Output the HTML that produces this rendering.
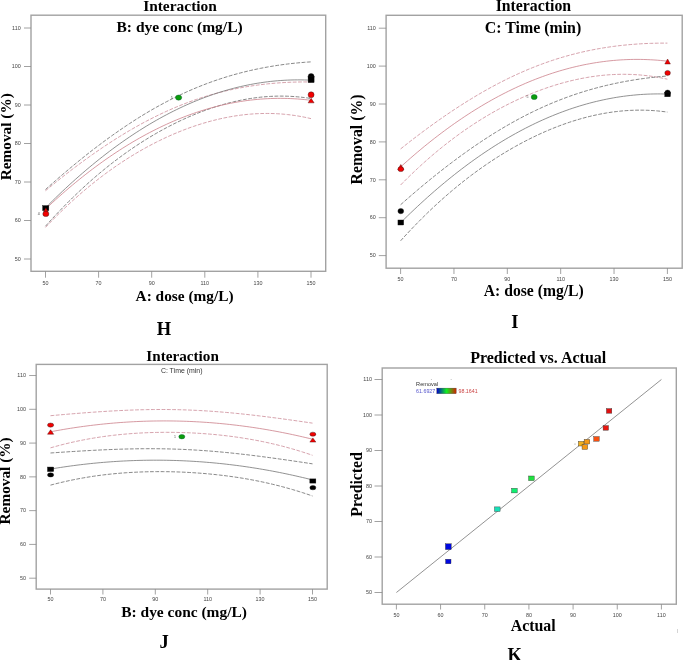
<!DOCTYPE html>
<html><head><meta charset="utf-8"><style>
html,body{margin:0;padding:0;background:#fff;}
body{width:685px;height:660px;overflow:hidden;}
svg{display:block;will-change:transform;}
</style></head><body>
<svg width="685" height="660" viewBox="0 0 685 660">
<rect width="685" height="660" fill="#fff"/>
<rect x="31" y="15.2" width="294.7" height="256.1" fill="none" stroke="#a2a2a2" stroke-width="1.4"/>
<line x1="45.50" y1="271.3" x2="45.50" y2="277.7" stroke="#8a8a8a" stroke-width="0.8"/>
<text x="45.50" y="285.20" font-family='"Liberation Sans", sans-serif' font-size="5.4" font-weight="normal" text-anchor="middle" fill="#444" >50</text>
<line x1="98.60" y1="271.3" x2="98.60" y2="277.7" stroke="#8a8a8a" stroke-width="0.8"/>
<text x="98.60" y="285.20" font-family='"Liberation Sans", sans-serif' font-size="5.4" font-weight="normal" text-anchor="middle" fill="#444" >70</text>
<line x1="151.70" y1="271.3" x2="151.70" y2="277.7" stroke="#8a8a8a" stroke-width="0.8"/>
<text x="151.70" y="285.20" font-family='"Liberation Sans", sans-serif' font-size="5.4" font-weight="normal" text-anchor="middle" fill="#444" >90</text>
<line x1="204.80" y1="271.3" x2="204.80" y2="277.7" stroke="#8a8a8a" stroke-width="0.8"/>
<text x="204.80" y="285.20" font-family='"Liberation Sans", sans-serif' font-size="5.4" font-weight="normal" text-anchor="middle" fill="#444" >110</text>
<line x1="257.90" y1="271.3" x2="257.90" y2="277.7" stroke="#8a8a8a" stroke-width="0.8"/>
<text x="257.90" y="285.20" font-family='"Liberation Sans", sans-serif' font-size="5.4" font-weight="normal" text-anchor="middle" fill="#444" >130</text>
<line x1="311.00" y1="271.3" x2="311.00" y2="277.7" stroke="#8a8a8a" stroke-width="0.8"/>
<text x="311.00" y="285.20" font-family='"Liberation Sans", sans-serif' font-size="5.4" font-weight="normal" text-anchor="middle" fill="#444" >150</text>
<line x1="24" y1="259.00" x2="31" y2="259.00" stroke="#8a8a8a" stroke-width="0.8"/>
<text x="20.70" y="260.70" font-family='"Liberation Sans", sans-serif' font-size="5.4" font-weight="normal" text-anchor="end" fill="#444" >50</text>
<line x1="24" y1="220.50" x2="31" y2="220.50" stroke="#8a8a8a" stroke-width="0.8"/>
<text x="20.70" y="222.20" font-family='"Liberation Sans", sans-serif' font-size="5.4" font-weight="normal" text-anchor="end" fill="#444" >60</text>
<line x1="24" y1="182.00" x2="31" y2="182.00" stroke="#8a8a8a" stroke-width="0.8"/>
<text x="20.70" y="183.70" font-family='"Liberation Sans", sans-serif' font-size="5.4" font-weight="normal" text-anchor="end" fill="#444" >70</text>
<line x1="24" y1="143.50" x2="31" y2="143.50" stroke="#8a8a8a" stroke-width="0.8"/>
<text x="20.70" y="145.20" font-family='"Liberation Sans", sans-serif' font-size="5.4" font-weight="normal" text-anchor="end" fill="#444" >80</text>
<line x1="24" y1="105.00" x2="31" y2="105.00" stroke="#8a8a8a" stroke-width="0.8"/>
<text x="20.70" y="106.70" font-family='"Liberation Sans", sans-serif' font-size="5.4" font-weight="normal" text-anchor="end" fill="#444" >90</text>
<line x1="24" y1="66.50" x2="31" y2="66.50" stroke="#8a8a8a" stroke-width="0.8"/>
<text x="20.70" y="68.20" font-family='"Liberation Sans", sans-serif' font-size="5.4" font-weight="normal" text-anchor="end" fill="#444" >100</text>
<line x1="24" y1="28.00" x2="31" y2="28.00" stroke="#8a8a8a" stroke-width="0.8"/>
<text x="20.70" y="29.70" font-family='"Liberation Sans", sans-serif' font-size="5.4" font-weight="normal" text-anchor="end" fill="#444" >110</text>
<polyline points="45.50,189.55 48.86,186.54 52.22,183.55 55.58,180.60 58.94,177.67 62.30,174.78 65.66,171.91 69.03,169.08 72.39,166.27 75.75,163.50 79.11,160.75 82.47,158.04 85.83,155.36 89.19,152.71 92.55,150.10 95.91,147.51 99.27,144.96 102.63,142.45 105.99,139.97 109.35,137.52 112.72,135.11 116.08,132.74 119.44,130.40 122.80,128.10 126.16,125.83 129.52,123.61 132.88,121.42 136.24,119.27 139.60,117.16 142.96,115.09 146.32,113.06 149.68,111.07 153.04,109.12 156.41,107.22 159.77,105.35 163.13,103.52 166.49,101.74 169.85,100.00 173.21,98.30 176.57,96.64 179.93,95.02 183.29,93.45 186.65,91.92 190.01,90.43 193.37,88.98 196.73,87.57 200.09,86.21 203.46,84.88 206.82,83.60 210.18,82.35 213.54,81.15 216.90,79.99 220.26,78.87 223.62,77.78 226.98,76.74 230.34,75.73 233.70,74.76 237.06,73.83 240.42,72.94 243.78,72.08 247.15,71.26 250.51,70.47 253.87,69.72 257.23,69.00 260.59,68.32 263.95,67.67 267.31,67.05 270.67,66.47 274.03,65.92 277.39,65.40 280.75,64.91 284.11,64.45 287.47,64.02 290.84,63.63 294.20,63.26 297.56,62.92 300.92,62.62 304.28,62.34 307.64,62.09 311.00,61.87" fill="none" stroke="#6a6a6a" stroke-width="0.8" stroke-dasharray="3.8,1.5"/>
<polyline points="45.50,190.72 48.86,187.94 52.22,185.18 55.58,182.46 58.94,179.76 62.30,177.09 65.66,174.46 69.03,171.85 72.39,169.28 75.75,166.73 79.11,164.22 82.47,161.74 85.83,159.29 89.19,156.87 92.55,154.49 95.91,152.14 99.27,149.82 102.63,147.54 105.99,145.29 109.35,143.08 112.72,140.90 116.08,138.76 119.44,136.66 122.80,134.59 126.16,132.56 129.52,130.57 132.88,128.62 136.24,126.71 139.60,124.84 142.96,123.00 146.32,121.21 149.68,119.46 153.04,117.75 156.41,116.08 159.77,114.45 163.13,112.86 166.49,111.31 169.85,109.81 173.21,108.35 176.57,106.93 179.93,105.56 183.29,104.22 186.65,102.93 190.01,101.68 193.37,100.47 196.73,99.31 200.09,98.18 203.46,97.10 206.82,96.06 210.18,95.06 213.54,94.10 216.90,93.18 220.26,92.30 223.62,91.46 226.98,90.65 230.34,89.89 233.70,89.17 237.06,88.48 240.42,87.83 243.78,87.22 247.15,86.64 250.51,86.10 253.87,85.60 257.23,85.13 260.59,84.69 263.95,84.29 267.31,83.92 270.67,83.58 274.03,83.28 277.39,83.01 280.75,82.77 284.11,82.56 287.47,82.38 290.84,82.23 294.20,82.12 297.56,82.03 300.92,81.97 304.28,81.94 307.64,81.95 311.00,81.98" fill="none" stroke="#cc8c98" stroke-width="0.8" stroke-dasharray="3.8,1.5"/>
<polyline points="45.50,226.19 48.86,222.44 52.22,218.76 55.58,215.14 58.94,211.58 62.30,208.08 65.66,204.64 69.03,201.26 72.39,197.95 75.75,194.69 79.11,191.49 82.47,188.35 85.83,185.27 89.19,182.24 92.55,179.28 95.91,176.37 99.27,173.52 102.63,170.72 105.99,167.99 109.35,165.30 112.72,162.67 116.08,160.10 119.44,157.58 122.80,155.11 126.16,152.70 129.52,150.34 132.88,148.03 136.24,145.77 139.60,143.56 142.96,141.40 146.32,139.30 149.68,137.24 153.04,135.24 156.41,133.28 159.77,131.37 163.13,129.51 166.49,127.70 169.85,125.94 173.21,124.23 176.57,122.56 179.93,120.95 183.29,119.38 186.65,117.86 190.01,116.39 193.37,114.97 196.73,113.59 200.09,112.27 203.46,110.99 206.82,109.77 210.18,108.59 213.54,107.46 216.90,106.39 220.26,105.36 223.62,104.39 226.98,103.47 230.34,102.60 233.70,101.78 237.06,101.01 240.42,100.30 243.78,99.64 247.15,99.04 250.51,98.49 253.87,98.00 257.23,97.56 260.59,97.18 263.95,96.85 267.31,96.59 270.67,96.38 274.03,96.23 277.39,96.13 280.75,96.10 284.11,96.13 287.47,96.21 290.84,96.36 294.20,96.56 297.56,96.83 300.92,97.16 304.28,97.55 307.64,97.99 311.00,98.51" fill="none" stroke="#6a6a6a" stroke-width="0.8" stroke-dasharray="3.8,1.5"/>
<polyline points="45.50,227.36 48.86,223.84 52.22,220.39 55.58,217.00 58.94,213.67 62.30,210.40 65.66,207.19 69.03,204.04 72.39,200.95 75.75,197.92 79.11,194.96 82.47,192.05 85.83,189.20 89.19,186.41 92.55,183.67 95.91,181.00 99.27,178.38 102.63,175.82 105.99,173.31 109.35,170.86 112.72,168.47 116.08,166.13 119.44,163.84 122.80,161.61 126.16,159.43 129.52,157.30 132.88,155.23 136.24,153.21 139.60,151.23 142.96,149.31 146.32,147.45 149.68,145.63 153.04,143.86 156.41,142.14 159.77,140.47 163.13,138.85 166.49,137.28 169.85,135.75 173.21,134.28 176.57,132.85 179.93,131.48 183.29,130.15 186.65,128.87 190.01,127.64 193.37,126.46 196.73,125.33 200.09,124.24 203.46,123.21 206.82,122.23 210.18,121.29 213.54,120.41 216.90,119.58 220.26,118.79 223.62,118.06 226.98,117.38 230.34,116.76 233.70,116.18 237.06,115.66 240.42,115.20 243.78,114.78 247.15,114.42 250.51,114.12 253.87,113.87 257.23,113.68 260.59,113.55 263.95,113.47 267.31,113.45 270.67,113.49 274.03,113.59 277.39,113.74 280.75,113.96 284.11,114.23 287.47,114.57 290.84,114.96 294.20,115.42 297.56,115.93 300.92,116.51 304.28,117.15 307.64,117.85 311.00,118.61" fill="none" stroke="#cc8c98" stroke-width="0.8" stroke-dasharray="3.8,1.5"/>
<polyline points="45.50,207.87 48.86,204.49 52.22,201.16 55.58,197.87 58.94,194.63 62.30,191.43 65.66,188.28 69.03,185.17 72.39,182.11 75.75,179.09 79.11,176.12 82.47,173.20 85.83,170.31 89.19,167.48 92.55,164.69 95.91,161.94 99.27,159.24 102.63,156.59 105.99,153.98 109.35,151.41 112.72,148.89 116.08,146.42 119.44,143.99 122.80,141.60 126.16,139.27 129.52,136.97 132.88,134.72 136.24,132.52 139.60,130.36 142.96,128.25 146.32,126.18 149.68,124.16 153.04,122.18 156.41,120.25 159.77,118.36 163.13,116.52 166.49,114.72 169.85,112.97 173.21,111.26 176.57,109.60 179.93,107.99 183.29,106.41 186.65,104.89 190.01,103.41 193.37,101.97 196.73,100.58 200.09,99.24 203.46,97.94 206.82,96.68 210.18,95.47 213.54,94.31 216.90,93.19 220.26,92.11 223.62,91.09 226.98,90.10 230.34,89.16 233.70,88.27 237.06,87.42 240.42,86.62 243.78,85.86 247.15,85.15 250.51,84.48 253.87,83.86 257.23,83.28 260.59,82.75 263.95,82.26 267.31,81.82 270.67,81.42 274.03,81.07 277.39,80.77 280.75,80.50 284.11,80.29 287.47,80.12 290.84,79.99 294.20,79.91 297.56,79.88 300.92,79.89 304.28,79.94 307.64,80.04 311.00,80.19" fill="none" stroke="#767676" stroke-width="0.8"/>
<polyline points="45.50,209.04 48.86,205.89 52.22,202.79 55.58,199.73 58.94,196.71 62.30,193.75 65.66,190.82 69.03,187.95 72.39,185.12 75.75,182.33 79.11,179.59 82.47,176.89 85.83,174.24 89.19,171.64 92.55,169.08 95.91,166.57 99.27,164.10 102.63,161.68 105.99,159.30 109.35,156.97 112.72,154.68 116.08,152.44 119.44,150.25 122.80,148.10 126.16,146.00 129.52,143.94 132.88,141.92 136.24,139.96 139.60,138.04 142.96,136.16 146.32,134.33 149.68,132.54 153.04,130.80 156.41,129.11 159.77,127.46 163.13,125.85 166.49,124.30 169.85,122.78 173.21,121.31 176.57,119.89 179.93,118.52 183.29,117.19 186.65,115.90 190.01,114.66 193.37,113.47 196.73,112.32 200.09,111.21 203.46,110.15 206.82,109.14 210.18,108.17 213.54,107.25 216.90,106.38 220.26,105.54 223.62,104.76 226.98,104.02 230.34,103.32 233.70,102.68 237.06,102.07 240.42,101.51 243.78,101.00 247.15,100.53 250.51,100.11 253.87,99.74 257.23,99.41 260.59,99.12 263.95,98.88 267.31,98.69 270.67,98.54 274.03,98.43 277.39,98.38 280.75,98.36 284.11,98.40 287.47,98.47 290.84,98.60 294.20,98.77 297.56,98.98 300.92,99.24 304.28,99.55 307.64,99.90 311.00,100.30" fill="none" stroke="#cc808a" stroke-width="0.8"/>
<rect x="42.65" y="205.60" width="6.2" height="5" fill="#000" stroke="#111" stroke-width="0.4"/>
<polygon points="43.55,212.00 48.15,212.00 45.85,207.80" fill="#f20000" stroke="#400" stroke-width="0.4"/>
<ellipse cx="45.85" cy="213.90" rx="3.05" ry="2.7" fill="#f20000" stroke="#222" stroke-width="0.4"/>
<ellipse cx="311.10" cy="76.50" rx="3" ry="3" fill="#000" stroke="#222" stroke-width="0.4"/>
<rect x="308.10" y="76.60" width="6" height="6" fill="#000" stroke="#111" stroke-width="0.4"/>
<ellipse cx="311.10" cy="94.80" rx="3" ry="3" fill="#f20000" stroke="#222" stroke-width="0.4"/>
<polygon points="308.10,102.85 314.10,102.85 311.10,98.35" fill="#f20000" stroke="#400" stroke-width="0.4"/>
<ellipse cx="178.60" cy="97.60" rx="3.1" ry="2.6" fill="#0c9c0c" stroke="#053" stroke-width="0.4"/>
<text x="38.75" y="215.20" font-family='"Liberation Sans", sans-serif' font-size="3.5" font-weight="normal" text-anchor="middle" fill="#333" >4</text>
<text x="171.70" y="98.50" font-family='"Liberation Sans", sans-serif' font-size="3.5" font-weight="normal" text-anchor="middle" fill="#555" >5</text>
<text x="180.00" y="11.00" font-family='"Liberation Serif", serif' font-size="15.45" font-weight="bold" text-anchor="middle" fill="#000" >Interaction</text>
<text x="179.60" y="32.30" font-family='"Liberation Serif", serif' font-size="15.5" font-weight="bold" text-anchor="middle" fill="#000" >B: dye conc (mg/L)</text>
<text x="184.60" y="300.60" font-family='"Liberation Serif", serif' font-size="15.35" font-weight="bold" text-anchor="middle" fill="#000" >A: dose (mg/L)</text>
<text transform="translate(11.2,136.75) rotate(-90)" font-family='"Liberation Serif", serif' font-size="15.3" font-weight="bold" text-anchor="middle" fill="#000">Removal (%)</text>
<text x="164.00" y="334.80" font-family='"Liberation Serif", serif' font-size="18.5" font-weight="bold" text-anchor="middle" fill="#000" >H</text>
<rect x="386.1" y="15.3" width="296.1" height="252.89999999999998" fill="none" stroke="#a2a2a2" stroke-width="1.4"/>
<line x1="400.60" y1="268.2" x2="400.60" y2="274.0" stroke="#8a8a8a" stroke-width="0.8"/>
<text x="400.60" y="280.90" font-family='"Liberation Sans", sans-serif' font-size="5.4" font-weight="normal" text-anchor="middle" fill="#444" >50</text>
<line x1="453.96" y1="268.2" x2="453.96" y2="274.0" stroke="#8a8a8a" stroke-width="0.8"/>
<text x="453.96" y="280.90" font-family='"Liberation Sans", sans-serif' font-size="5.4" font-weight="normal" text-anchor="middle" fill="#444" >70</text>
<line x1="507.32" y1="268.2" x2="507.32" y2="274.0" stroke="#8a8a8a" stroke-width="0.8"/>
<text x="507.32" y="280.90" font-family='"Liberation Sans", sans-serif' font-size="5.4" font-weight="normal" text-anchor="middle" fill="#444" >90</text>
<line x1="560.68" y1="268.2" x2="560.68" y2="274.0" stroke="#8a8a8a" stroke-width="0.8"/>
<text x="560.68" y="280.90" font-family='"Liberation Sans", sans-serif' font-size="5.4" font-weight="normal" text-anchor="middle" fill="#444" >110</text>
<line x1="614.04" y1="268.2" x2="614.04" y2="274.0" stroke="#8a8a8a" stroke-width="0.8"/>
<text x="614.04" y="280.90" font-family='"Liberation Sans", sans-serif' font-size="5.4" font-weight="normal" text-anchor="middle" fill="#444" >130</text>
<line x1="667.40" y1="268.2" x2="667.40" y2="274.0" stroke="#8a8a8a" stroke-width="0.8"/>
<text x="667.40" y="280.90" font-family='"Liberation Sans", sans-serif' font-size="5.4" font-weight="normal" text-anchor="middle" fill="#444" >150</text>
<line x1="378.8" y1="255.60" x2="386.1" y2="255.60" stroke="#8a8a8a" stroke-width="0.8"/>
<text x="375.80" y="257.30" font-family='"Liberation Sans", sans-serif' font-size="5.4" font-weight="normal" text-anchor="end" fill="#444" >50</text>
<line x1="378.8" y1="217.70" x2="386.1" y2="217.70" stroke="#8a8a8a" stroke-width="0.8"/>
<text x="375.80" y="219.40" font-family='"Liberation Sans", sans-serif' font-size="5.4" font-weight="normal" text-anchor="end" fill="#444" >60</text>
<line x1="378.8" y1="179.80" x2="386.1" y2="179.80" stroke="#8a8a8a" stroke-width="0.8"/>
<text x="375.80" y="181.50" font-family='"Liberation Sans", sans-serif' font-size="5.4" font-weight="normal" text-anchor="end" fill="#444" >70</text>
<line x1="378.8" y1="141.90" x2="386.1" y2="141.90" stroke="#8a8a8a" stroke-width="0.8"/>
<text x="375.80" y="143.60" font-family='"Liberation Sans", sans-serif' font-size="5.4" font-weight="normal" text-anchor="end" fill="#444" >80</text>
<line x1="378.8" y1="104.00" x2="386.1" y2="104.00" stroke="#8a8a8a" stroke-width="0.8"/>
<text x="375.80" y="105.70" font-family='"Liberation Sans", sans-serif' font-size="5.4" font-weight="normal" text-anchor="end" fill="#444" >90</text>
<line x1="378.8" y1="66.10" x2="386.1" y2="66.10" stroke="#8a8a8a" stroke-width="0.8"/>
<text x="375.80" y="67.80" font-family='"Liberation Sans", sans-serif' font-size="5.4" font-weight="normal" text-anchor="end" fill="#444" >100</text>
<line x1="378.8" y1="28.20" x2="386.1" y2="28.20" stroke="#8a8a8a" stroke-width="0.8"/>
<text x="375.80" y="29.90" font-family='"Liberation Sans", sans-serif' font-size="5.4" font-weight="normal" text-anchor="end" fill="#444" >110</text>
<polyline points="400.60,148.93 403.98,146.24 407.35,143.58 410.73,140.94 414.11,138.34 417.49,135.76 420.86,133.21 424.24,130.69 427.62,128.20 430.99,125.74 434.37,123.31 437.75,120.91 441.13,118.54 444.50,116.20 447.88,113.89 451.26,111.61 454.64,109.37 458.01,107.16 461.39,104.98 464.77,102.84 468.14,100.73 471.52,98.65 474.90,96.62 478.28,94.61 481.65,92.64 485.03,90.71 488.41,88.82 491.78,86.97 495.16,85.15 498.54,83.37 501.92,81.63 505.29,79.93 508.67,78.27 512.05,76.64 515.43,75.06 518.80,73.52 522.18,72.02 525.56,70.56 528.93,69.14 532.31,67.76 535.69,66.42 539.07,65.12 542.44,63.86 545.82,62.64 549.20,61.47 552.57,60.33 555.95,59.23 559.33,58.18 562.71,57.16 566.08,56.18 569.46,55.25 572.84,54.35 576.22,53.49 579.59,52.66 582.97,51.88 586.35,51.13 589.72,50.42 593.10,49.74 596.48,49.10 599.86,48.50 603.23,47.93 606.61,47.40 609.99,46.90 613.36,46.43 616.74,45.99 620.12,45.59 623.50,45.22 626.87,44.88 630.25,44.57 633.63,44.30 637.01,44.05 640.38,43.83 643.76,43.64 647.14,43.49 650.51,43.36 653.89,43.26 657.27,43.18 660.65,43.14 664.02,43.12 667.40,43.14" fill="none" stroke="#cc8c98" stroke-width="0.8" stroke-dasharray="3.8,1.5"/>
<polyline points="400.60,185.00 403.98,181.59 407.35,178.24 410.73,174.95 414.11,171.72 417.49,168.54 420.86,165.43 424.24,162.38 427.62,159.38 430.99,156.44 434.37,153.56 437.75,150.74 441.13,147.98 444.50,145.27 447.88,142.62 451.26,140.02 454.64,137.48 458.01,134.99 461.39,132.56 464.77,130.19 468.14,127.86 471.52,125.59 474.90,123.37 478.28,121.21 481.65,119.09 485.03,117.03 488.41,115.01 491.78,113.05 495.16,111.14 498.54,109.27 501.92,107.46 505.29,105.69 508.67,103.97 512.05,102.30 515.43,100.68 518.80,99.10 522.18,97.57 525.56,96.09 528.93,94.66 532.31,93.27 535.69,91.93 539.07,90.64 542.44,89.40 545.82,88.20 549.20,87.05 552.57,85.95 555.95,84.89 559.33,83.88 562.71,82.92 566.08,82.01 569.46,81.15 572.84,80.33 576.22,79.57 579.59,78.85 582.97,78.19 586.35,77.58 589.72,77.01 593.10,76.50 596.48,76.04 599.86,75.63 603.23,75.28 606.61,74.98 609.99,74.73 613.36,74.54 616.74,74.40 620.12,74.32 623.50,74.29 626.87,74.32 630.25,74.41 633.63,74.55 637.01,74.75 640.38,75.01 643.76,75.33 647.14,75.71 650.51,76.14 653.89,76.63 657.27,77.19 660.65,77.80 664.02,78.47 667.40,79.20" fill="none" stroke="#cc8c98" stroke-width="0.8" stroke-dasharray="3.8,1.5"/>
<polyline points="400.60,204.74 403.98,201.75 407.35,198.79 410.73,195.85 414.11,192.95 417.49,190.07 420.86,187.22 424.24,184.40 427.62,181.61 430.99,178.85 434.37,176.13 437.75,173.43 441.13,170.76 444.50,168.12 447.88,165.52 451.26,162.95 454.64,160.41 458.01,157.90 461.39,155.43 464.77,152.99 468.14,150.58 471.52,148.21 474.90,145.88 478.28,143.58 481.65,141.32 485.03,139.09 488.41,136.91 491.78,134.76 495.16,132.65 498.54,130.58 501.92,128.54 505.29,126.55 508.67,124.60 512.05,122.68 515.43,120.81 518.80,118.97 522.18,117.18 525.56,115.43 528.93,113.72 532.31,112.05 535.69,110.42 539.07,108.83 542.44,107.28 545.82,105.78 549.20,104.31 552.57,102.89 555.95,101.50 559.33,100.16 562.71,98.85 566.08,97.59 569.46,96.36 572.84,95.17 576.22,94.03 579.59,92.92 582.97,91.85 586.35,90.81 589.72,89.81 593.10,88.85 596.48,87.93 599.86,87.04 603.23,86.19 606.61,85.37 609.99,84.58 613.36,83.83 616.74,83.11 620.12,82.42 623.50,81.77 626.87,81.15 630.25,80.56 633.63,80.00 637.01,79.47 640.38,78.97 643.76,78.50 647.14,78.06 650.51,77.65 653.89,77.27 657.27,76.91 660.65,76.59 664.02,76.29 667.40,76.03" fill="none" stroke="#6a6a6a" stroke-width="0.8" stroke-dasharray="3.8,1.5"/>
<polyline points="400.60,240.80 403.98,237.09 407.35,233.44 410.73,229.85 414.11,226.32 417.49,222.85 420.86,219.44 424.24,216.09 427.62,212.79 430.99,209.56 434.37,206.38 437.75,203.26 441.13,200.20 444.50,197.19 447.88,194.25 451.26,191.35 454.64,188.52 458.01,185.73 461.39,183.01 464.77,180.33 468.14,177.71 471.52,175.15 474.90,172.64 478.28,170.17 481.65,167.76 485.03,165.41 488.41,163.10 491.78,160.84 495.16,158.64 498.54,156.48 501.92,154.37 505.29,152.31 508.67,150.30 512.05,148.34 515.43,146.42 518.80,144.56 522.18,142.74 525.56,140.97 528.93,139.24 532.31,137.57 535.69,135.94 539.07,134.35 542.44,132.82 545.82,131.33 549.20,129.89 552.57,128.50 555.95,127.16 559.33,125.86 562.71,124.61 566.08,123.41 569.46,122.26 572.84,121.16 576.22,120.11 579.59,119.11 582.97,118.16 586.35,117.26 589.72,116.41 593.10,115.61 596.48,114.87 599.86,114.17 603.23,113.53 606.61,112.95 609.99,112.42 613.36,111.94 616.74,111.52 620.12,111.15 623.50,110.84 626.87,110.59 630.25,110.39 633.63,110.25 637.01,110.17 640.38,110.15 643.76,110.18 647.14,110.28 650.51,110.43 653.89,110.64 657.27,110.92 660.65,111.25 664.02,111.64 667.40,112.09" fill="none" stroke="#6a6a6a" stroke-width="0.8" stroke-dasharray="3.8,1.5"/>
<polyline points="400.60,166.96 403.98,163.91 407.35,160.91 410.73,157.95 414.11,155.03 417.49,152.15 420.86,149.32 424.24,146.53 427.62,143.79 430.99,141.09 434.37,138.44 437.75,135.82 441.13,133.26 444.50,130.73 447.88,128.25 451.26,125.82 454.64,123.43 458.01,121.08 461.39,118.77 464.77,116.51 468.14,114.30 471.52,112.12 474.90,109.99 478.28,107.91 481.65,105.87 485.03,103.87 488.41,101.92 491.78,100.01 495.16,98.14 498.54,96.32 501.92,94.54 505.29,92.81 508.67,91.12 512.05,89.47 515.43,87.87 518.80,86.31 522.18,84.80 525.56,83.32 528.93,81.90 532.31,80.51 535.69,79.18 539.07,77.88 542.44,76.63 545.82,75.42 549.20,74.26 552.57,73.14 555.95,72.06 559.33,71.03 562.71,70.04 566.08,69.10 569.46,68.20 572.84,67.34 576.22,66.53 579.59,65.76 582.97,65.03 586.35,64.35 589.72,63.72 593.10,63.12 596.48,62.57 599.86,62.07 603.23,61.61 606.61,61.19 609.99,60.81 613.36,60.48 616.74,60.20 620.12,59.95 623.50,59.76 626.87,59.60 630.25,59.49 633.63,59.42 637.01,59.40 640.38,59.42 643.76,59.49 647.14,59.60 650.51,59.75 653.89,59.94 657.27,60.18 660.65,60.47 664.02,60.80 667.40,61.17" fill="none" stroke="#cc808a" stroke-width="0.8"/>
<polyline points="400.60,222.77 403.98,219.42 407.35,216.12 410.73,212.85 414.11,209.64 417.49,206.46 420.86,203.33 424.24,200.25 427.62,197.20 430.99,194.21 434.37,191.25 437.75,188.34 441.13,185.48 444.50,182.66 447.88,179.88 451.26,177.15 454.64,174.46 458.01,171.82 461.39,169.22 464.77,166.66 468.14,164.15 471.52,161.68 474.90,159.26 478.28,156.88 481.65,154.54 485.03,152.25 488.41,150.00 491.78,147.80 495.16,145.64 498.54,143.53 501.92,141.46 505.29,139.43 508.67,137.45 512.05,135.51 515.43,133.61 518.80,131.77 522.18,129.96 525.56,128.20 528.93,126.48 532.31,124.81 535.69,123.18 539.07,121.59 542.44,120.05 545.82,118.55 549.20,117.10 552.57,115.69 555.95,114.33 559.33,113.01 562.71,111.73 566.08,110.50 569.46,109.31 572.84,108.17 576.22,107.07 579.59,106.01 582.97,105.00 586.35,104.03 589.72,103.11 593.10,102.23 596.48,101.40 599.86,100.61 603.23,99.86 606.61,99.16 609.99,98.50 613.36,97.88 616.74,97.31 620.12,96.79 623.50,96.31 626.87,95.87 630.25,95.48 633.63,95.13 637.01,94.82 640.38,94.56 643.76,94.34 647.14,94.17 650.51,94.04 653.89,93.96 657.27,93.92 660.65,93.92 664.02,93.97 667.40,94.06" fill="none" stroke="#767676" stroke-width="0.8"/>
<polygon points="397.80,169.50 403.80,169.50 400.80,164.50" fill="#f20000" stroke="#400" stroke-width="0.4"/>
<ellipse cx="400.80" cy="169.20" rx="2.9" ry="2.4" fill="#f20000" stroke="#222" stroke-width="0.4"/>
<ellipse cx="400.80" cy="211.10" rx="2.9" ry="2.7" fill="#000" stroke="#222" stroke-width="0.4"/>
<rect x="397.95" y="220.00" width="5.7" height="5" fill="#000" stroke="#111" stroke-width="0.4"/>
<polygon points="664.80,64.00 670.40,64.00 667.60,59.00" fill="#f20000" stroke="#400" stroke-width="0.4"/>
<ellipse cx="667.60" cy="72.90" rx="2.8" ry="2.5" fill="#f20000" stroke="#222" stroke-width="0.4"/>
<ellipse cx="667.60" cy="92.80" rx="2.8" ry="2.8" fill="#000" stroke="#222" stroke-width="0.4"/>
<rect x="664.80" y="92.25" width="5.6" height="4.5" fill="#000" stroke="#111" stroke-width="0.4"/>
<ellipse cx="534.20" cy="97.00" rx="3.0" ry="2.6" fill="#0c9c0c" stroke="#053" stroke-width="0.4"/>
<text x="527.50" y="98.00" font-family='"Liberation Sans", sans-serif' font-size="3.5" font-weight="normal" text-anchor="middle" fill="#555" >5</text>
<text x="533.40" y="10.90" font-family='"Liberation Serif", serif' font-size="15.8" font-weight="bold" text-anchor="middle" fill="#000" >Interaction</text>
<text x="533.00" y="32.80" font-family='"Liberation Serif", serif' font-size="15.9" font-weight="bold" text-anchor="middle" fill="#000" >C: Time (min)</text>
<text x="533.80" y="295.90" font-family='"Liberation Serif", serif' font-size="15.65" font-weight="bold" text-anchor="middle" fill="#000" >A: dose (mg/L)</text>
<text transform="translate(361.8,139.5) rotate(-90)" font-family='"Liberation Serif", serif' font-size="15.8" font-weight="bold" text-anchor="middle" fill="#000">Removal (%)</text>
<text x="514.80" y="328.40" font-family='"Liberation Serif", serif' font-size="18.5" font-weight="bold" text-anchor="middle" fill="#000" >I</text>
<rect x="36.2" y="364.4" width="291.0" height="224.70000000000005" fill="none" stroke="#a2a2a2" stroke-width="1.4"/>
<line x1="50.50" y1="589.1" x2="50.50" y2="594.5" stroke="#8a8a8a" stroke-width="0.8"/>
<text x="50.50" y="600.50" font-family='"Liberation Sans", sans-serif' font-size="5.4" font-weight="normal" text-anchor="middle" fill="#444" >50</text>
<line x1="102.90" y1="589.1" x2="102.90" y2="594.5" stroke="#8a8a8a" stroke-width="0.8"/>
<text x="102.90" y="600.50" font-family='"Liberation Sans", sans-serif' font-size="5.4" font-weight="normal" text-anchor="middle" fill="#444" >70</text>
<line x1="155.30" y1="589.1" x2="155.30" y2="594.5" stroke="#8a8a8a" stroke-width="0.8"/>
<text x="155.30" y="600.50" font-family='"Liberation Sans", sans-serif' font-size="5.4" font-weight="normal" text-anchor="middle" fill="#444" >90</text>
<line x1="207.70" y1="589.1" x2="207.70" y2="594.5" stroke="#8a8a8a" stroke-width="0.8"/>
<text x="207.70" y="600.50" font-family='"Liberation Sans", sans-serif' font-size="5.4" font-weight="normal" text-anchor="middle" fill="#444" >110</text>
<line x1="260.10" y1="589.1" x2="260.10" y2="594.5" stroke="#8a8a8a" stroke-width="0.8"/>
<text x="260.10" y="600.50" font-family='"Liberation Sans", sans-serif' font-size="5.4" font-weight="normal" text-anchor="middle" fill="#444" >130</text>
<line x1="312.50" y1="589.1" x2="312.50" y2="594.5" stroke="#8a8a8a" stroke-width="0.8"/>
<text x="312.50" y="600.50" font-family='"Liberation Sans", sans-serif' font-size="5.4" font-weight="normal" text-anchor="middle" fill="#444" >150</text>
<line x1="29.200000000000003" y1="578.20" x2="36.2" y2="578.20" stroke="#8a8a8a" stroke-width="0.8"/>
<text x="25.90" y="579.90" font-family='"Liberation Sans", sans-serif' font-size="5.4" font-weight="normal" text-anchor="end" fill="#444" >50</text>
<line x1="29.200000000000003" y1="544.42" x2="36.2" y2="544.42" stroke="#8a8a8a" stroke-width="0.8"/>
<text x="25.90" y="546.12" font-family='"Liberation Sans", sans-serif' font-size="5.4" font-weight="normal" text-anchor="end" fill="#444" >60</text>
<line x1="29.200000000000003" y1="510.64" x2="36.2" y2="510.64" stroke="#8a8a8a" stroke-width="0.8"/>
<text x="25.90" y="512.34" font-family='"Liberation Sans", sans-serif' font-size="5.4" font-weight="normal" text-anchor="end" fill="#444" >70</text>
<line x1="29.200000000000003" y1="476.86" x2="36.2" y2="476.86" stroke="#8a8a8a" stroke-width="0.8"/>
<text x="25.90" y="478.56" font-family='"Liberation Sans", sans-serif' font-size="5.4" font-weight="normal" text-anchor="end" fill="#444" >80</text>
<line x1="29.200000000000003" y1="443.08" x2="36.2" y2="443.08" stroke="#8a8a8a" stroke-width="0.8"/>
<text x="25.90" y="444.78" font-family='"Liberation Sans", sans-serif' font-size="5.4" font-weight="normal" text-anchor="end" fill="#444" >90</text>
<line x1="29.200000000000003" y1="409.30" x2="36.2" y2="409.30" stroke="#8a8a8a" stroke-width="0.8"/>
<text x="25.90" y="411.00" font-family='"Liberation Sans", sans-serif' font-size="5.4" font-weight="normal" text-anchor="end" fill="#444" >100</text>
<line x1="29.200000000000003" y1="375.52" x2="36.2" y2="375.52" stroke="#8a8a8a" stroke-width="0.8"/>
<text x="25.90" y="377.22" font-family='"Liberation Sans", sans-serif' font-size="5.4" font-weight="normal" text-anchor="end" fill="#444" >110</text>
<polyline points="50.50,415.71 53.82,415.41 57.13,415.11 60.45,414.82 63.77,414.53 67.08,414.24 70.40,413.96 73.72,413.69 77.03,413.42 80.35,413.16 83.66,412.90 86.98,412.65 90.30,412.40 93.61,412.16 96.93,411.93 100.25,411.71 103.56,411.50 106.88,411.29 110.20,411.09 113.51,410.91 116.83,410.73 120.15,410.56 123.46,410.40 126.78,410.26 130.09,410.12 133.41,410.00 136.73,409.89 140.04,409.79 143.36,409.71 146.68,409.64 149.99,409.59 153.31,409.54 156.63,409.52 159.94,409.50 163.26,409.50 166.58,409.52 169.89,409.55 173.21,409.60 176.53,409.66 179.84,409.74 183.16,409.84 186.47,409.95 189.79,410.07 193.11,410.21 196.42,410.37 199.74,410.54 203.06,410.73 206.37,410.93 209.69,411.14 213.01,411.37 216.32,411.62 219.64,411.88 222.96,412.15 226.27,412.43 229.59,412.73 232.91,413.04 236.22,413.36 239.54,413.70 242.85,414.04 246.17,414.40 249.49,414.76 252.80,415.14 256.12,415.52 259.44,415.92 262.75,416.32 266.07,416.73 269.39,417.15 272.70,417.58 276.02,418.01 279.34,418.45 282.65,418.90 285.97,419.35 289.28,419.80 292.60,420.27 295.92,420.73 299.23,421.21 302.55,421.68 305.87,422.17 309.18,422.65 312.50,423.14" fill="none" stroke="#cc8c98" stroke-width="0.8" stroke-dasharray="3.8,1.5"/>
<polyline points="50.50,447.85 53.82,446.91 57.13,446.00 60.45,445.12 63.77,444.28 67.08,443.46 70.40,442.68 73.72,441.93 77.03,441.21 80.35,440.52 83.66,439.87 86.98,439.24 90.30,438.64 93.61,438.08 96.93,437.54 100.25,437.03 103.56,436.55 106.88,436.10 110.20,435.68 113.51,435.28 116.83,434.91 120.15,434.57 123.46,434.25 126.78,433.96 130.09,433.69 133.41,433.45 136.73,433.24 140.04,433.04 143.36,432.87 146.68,432.73 149.99,432.60 153.31,432.50 156.63,432.43 159.94,432.37 163.26,432.34 166.58,432.32 169.89,432.33 173.21,432.36 176.53,432.41 179.84,432.49 183.16,432.58 186.47,432.70 189.79,432.83 193.11,432.99 196.42,433.17 199.74,433.37 203.06,433.59 206.37,433.84 209.69,434.10 213.01,434.39 216.32,434.70 219.64,435.04 222.96,435.40 226.27,435.78 229.59,436.18 232.91,436.61 236.22,437.07 239.54,437.54 242.85,438.05 246.17,438.58 249.49,439.14 252.80,439.72 256.12,440.33 259.44,440.97 262.75,441.64 266.07,442.34 269.39,443.06 272.70,443.82 276.02,444.60 279.34,445.42 282.65,446.26 285.97,447.14 289.28,448.05 292.60,448.98 295.92,449.95 299.23,450.96 302.55,451.99 305.87,453.06 309.18,454.16 312.50,455.29" fill="none" stroke="#cc8c98" stroke-width="0.8" stroke-dasharray="3.8,1.5"/>
<polyline points="50.50,452.99 53.82,452.76 57.13,452.54 60.45,452.31 63.77,452.09 67.08,451.88 70.40,451.67 73.72,451.46 77.03,451.26 80.35,451.06 83.66,450.87 86.98,450.68 90.30,450.50 93.61,450.32 96.93,450.15 100.25,449.99 103.56,449.84 106.88,449.69 110.20,449.56 113.51,449.43 116.83,449.31 120.15,449.20 123.46,449.09 126.78,449.00 130.09,448.93 133.41,448.86 136.73,448.80 140.04,448.76 143.36,448.73 146.68,448.71 149.99,448.70 153.31,448.71 156.63,448.73 159.94,448.77 163.26,448.82 166.58,448.88 169.89,448.96 173.21,449.05 176.53,449.16 179.84,449.28 183.16,449.42 186.47,449.57 189.79,449.74 193.11,449.92 196.42,450.11 199.74,450.33 203.06,450.55 206.37,450.79 209.69,451.04 213.01,451.31 216.32,451.59 219.64,451.88 222.96,452.19 226.27,452.51 229.59,452.84 232.91,453.18 236.22,453.54 239.54,453.90 242.85,454.28 246.17,454.66 249.49,455.06 252.80,455.46 256.12,455.87 259.44,456.29 262.75,456.72 266.07,457.16 269.39,457.60 272.70,458.05 276.02,458.51 279.34,458.97 282.65,459.43 285.97,459.91 289.28,460.38 292.60,460.87 295.92,461.35 299.23,461.84 302.55,462.34 305.87,462.84 309.18,463.34 312.50,463.84" fill="none" stroke="#6a6a6a" stroke-width="0.8" stroke-dasharray="3.8,1.5"/>
<polyline points="50.50,485.14 53.82,484.27 57.13,483.43 60.45,482.62 63.77,481.84 67.08,481.10 70.40,480.38 73.72,479.70 77.03,479.05 80.35,478.42 83.66,477.83 86.98,477.27 90.30,476.74 93.61,476.23 96.93,475.76 100.25,475.31 103.56,474.89 106.88,474.50 110.20,474.14 113.51,473.80 116.83,473.49 120.15,473.20 123.46,472.94 126.78,472.71 130.09,472.50 133.41,472.31 136.73,472.15 140.04,472.01 143.36,471.89 146.68,471.79 149.99,471.72 153.31,471.67 156.63,471.64 159.94,471.63 163.26,471.65 166.58,471.68 169.89,471.74 173.21,471.81 176.53,471.91 179.84,472.02 183.16,472.16 186.47,472.32 189.79,472.50 193.11,472.70 196.42,472.92 199.74,473.16 203.06,473.42 206.37,473.70 209.69,474.00 213.01,474.33 216.32,474.68 219.64,475.05 222.96,475.44 226.27,475.85 229.59,476.29 232.91,476.75 236.22,477.24 239.54,477.75 242.85,478.28 246.17,478.84 249.49,479.43 252.80,480.04 256.12,480.68 259.44,481.35 262.75,482.04 266.07,482.76 269.39,483.51 272.70,484.29 276.02,485.10 279.34,485.93 282.65,486.80 285.97,487.70 289.28,488.63 292.60,489.58 295.92,490.57 299.23,491.59 302.55,492.64 305.87,493.73 309.18,494.84 312.50,495.99" fill="none" stroke="#6a6a6a" stroke-width="0.8" stroke-dasharray="3.8,1.5"/>
<polyline points="50.50,431.78 53.82,431.16 57.13,430.56 60.45,429.97 63.77,429.40 67.08,428.85 70.40,428.32 73.72,427.81 77.03,427.31 80.35,426.84 83.66,426.38 86.98,425.94 90.30,425.52 93.61,425.12 96.93,424.74 100.25,424.37 103.56,424.02 106.88,423.69 110.20,423.38 113.51,423.09 116.83,422.82 120.15,422.56 123.46,422.33 126.78,422.11 130.09,421.91 133.41,421.73 136.73,421.56 140.04,421.42 143.36,421.29 146.68,421.18 149.99,421.09 153.31,421.02 156.63,420.97 159.94,420.94 163.26,420.92 166.58,420.92 169.89,420.94 173.21,420.98 176.53,421.04 179.84,421.11 183.16,421.21 186.47,421.32 189.79,421.45 193.11,421.60 196.42,421.77 199.74,421.95 203.06,422.16 206.37,422.38 209.69,422.62 213.01,422.88 216.32,423.16 219.64,423.46 222.96,423.77 226.27,424.10 229.59,424.46 232.91,424.83 236.22,425.21 239.54,425.62 242.85,426.05 246.17,426.49 249.49,426.95 252.80,427.43 256.12,427.93 259.44,428.45 262.75,428.98 266.07,429.53 269.39,430.11 272.70,430.70 276.02,431.31 279.34,431.93 282.65,432.58 285.97,433.24 289.28,433.92 292.60,434.63 295.92,435.34 299.23,436.08 302.55,436.84 305.87,437.61 309.18,438.40 312.50,439.22" fill="none" stroke="#cc808a" stroke-width="0.8"/>
<polyline points="50.50,469.07 53.82,468.52 57.13,467.98 60.45,467.47 63.77,466.97 67.08,466.49 70.40,466.02 73.72,465.58 77.03,465.15 80.35,464.74 83.66,464.35 86.98,463.97 90.30,463.62 93.61,463.28 96.93,462.96 100.25,462.65 103.56,462.37 106.88,462.10 110.20,461.85 113.51,461.61 116.83,461.40 120.15,461.20 123.46,461.02 126.78,460.86 130.09,460.71 133.41,460.58 136.73,460.47 140.04,460.38 143.36,460.31 146.68,460.25 149.99,460.21 153.31,460.19 156.63,460.19 159.94,460.20 163.26,460.23 166.58,460.28 169.89,460.35 173.21,460.43 176.53,460.53 179.84,460.65 183.16,460.79 186.47,460.94 189.79,461.12 193.11,461.31 196.42,461.52 199.74,461.74 203.06,461.98 206.37,462.25 209.69,462.52 213.01,462.82 216.32,463.13 219.64,463.47 222.96,463.81 226.27,464.18 229.59,464.57 232.91,464.97 236.22,465.39 239.54,465.82 242.85,466.28 246.17,466.75 249.49,467.24 252.80,467.75 256.12,468.28 259.44,468.82 262.75,469.38 266.07,469.96 269.39,470.56 272.70,471.17 276.02,471.80 279.34,472.45 282.65,473.12 285.97,473.80 289.28,474.50 292.60,475.22 295.92,475.96 299.23,476.72 302.55,477.49 305.87,478.28 309.18,479.09 312.50,479.91" fill="none" stroke="#767676" stroke-width="0.8"/>
<ellipse cx="50.60" cy="425.10" rx="3.1" ry="2.1" fill="#f20000" stroke="#222" stroke-width="0.4"/>
<polygon points="47.50,434.25 53.70,434.25 50.60,429.75" fill="#f20000" stroke="#400" stroke-width="0.4"/>
<rect x="47.50" y="467.05" width="6.2" height="4.5" fill="#000" stroke="#111" stroke-width="0.4"/>
<ellipse cx="50.60" cy="474.90" rx="3.1" ry="2.1" fill="#000" stroke="#222" stroke-width="0.4"/>
<ellipse cx="312.85" cy="434.15" rx="3" ry="2" fill="#f20000" stroke="#222" stroke-width="0.4"/>
<polygon points="309.85,442.10 315.85,442.10 312.85,437.90" fill="#f20000" stroke="#400" stroke-width="0.4"/>
<rect x="309.85" y="478.90" width="6" height="4.2" fill="#000" stroke="#111" stroke-width="0.4"/>
<ellipse cx="312.85" cy="487.65" rx="3" ry="2.2" fill="#000" stroke="#222" stroke-width="0.4"/>
<ellipse cx="181.80" cy="436.70" rx="3.0" ry="2.2" fill="#0c9c0c" stroke="#053" stroke-width="0.4"/>
<text x="175.00" y="438.00" font-family='"Liberation Sans", sans-serif' font-size="3.5" font-weight="normal" text-anchor="middle" fill="#555" >1</text>
<text x="182.60" y="361.10" font-family='"Liberation Serif", serif' font-size="15.2" font-weight="bold" text-anchor="middle" fill="#000" >Interaction</text>
<text x="181.70" y="373.10" font-family='"Liberation Sans", sans-serif' font-size="6.95" font-weight="normal" text-anchor="middle" fill="#333" >C: Time (min)</text>
<text x="184.10" y="616.60" font-family='"Liberation Serif", serif' font-size="15.45" font-weight="bold" text-anchor="middle" fill="#000" >B: dye conc (mg/L)</text>
<text transform="translate(10.0,480.9) rotate(-90)" font-family='"Liberation Serif", serif' font-size="15.3" font-weight="bold" text-anchor="middle" fill="#000">Removal (%)</text>
<text x="164.20" y="648.40" font-family='"Liberation Serif", serif' font-size="18.5" font-weight="bold" text-anchor="middle" fill="#000" >J</text>
<rect x="382.2" y="368" width="294.09999999999997" height="236.20000000000005" fill="none" stroke="#a2a2a2" stroke-width="1.4"/>
<line x1="396.40" y1="604.2" x2="396.40" y2="609.5" stroke="#8a8a8a" stroke-width="0.8"/>
<text x="396.40" y="616.90" font-family='"Liberation Sans", sans-serif' font-size="5.4" font-weight="normal" text-anchor="middle" fill="#444" >50</text>
<line x1="440.57" y1="604.2" x2="440.57" y2="609.5" stroke="#8a8a8a" stroke-width="0.8"/>
<text x="440.57" y="616.90" font-family='"Liberation Sans", sans-serif' font-size="5.4" font-weight="normal" text-anchor="middle" fill="#444" >60</text>
<line x1="484.74" y1="604.2" x2="484.74" y2="609.5" stroke="#8a8a8a" stroke-width="0.8"/>
<text x="484.74" y="616.90" font-family='"Liberation Sans", sans-serif' font-size="5.4" font-weight="normal" text-anchor="middle" fill="#444" >70</text>
<line x1="528.91" y1="604.2" x2="528.91" y2="609.5" stroke="#8a8a8a" stroke-width="0.8"/>
<text x="528.91" y="616.90" font-family='"Liberation Sans", sans-serif' font-size="5.4" font-weight="normal" text-anchor="middle" fill="#444" >80</text>
<line x1="573.08" y1="604.2" x2="573.08" y2="609.5" stroke="#8a8a8a" stroke-width="0.8"/>
<text x="573.08" y="616.90" font-family='"Liberation Sans", sans-serif' font-size="5.4" font-weight="normal" text-anchor="middle" fill="#444" >90</text>
<line x1="617.25" y1="604.2" x2="617.25" y2="609.5" stroke="#8a8a8a" stroke-width="0.8"/>
<text x="617.25" y="616.90" font-family='"Liberation Sans", sans-serif' font-size="5.4" font-weight="normal" text-anchor="middle" fill="#444" >100</text>
<line x1="661.42" y1="604.2" x2="661.42" y2="609.5" stroke="#8a8a8a" stroke-width="0.8"/>
<text x="661.42" y="616.90" font-family='"Liberation Sans", sans-serif' font-size="5.4" font-weight="normal" text-anchor="middle" fill="#444" >110</text>
<line x1="374.5" y1="592.50" x2="382.2" y2="592.50" stroke="#8a8a8a" stroke-width="0.8"/>
<text x="371.90" y="594.20" font-family='"Liberation Sans", sans-serif' font-size="5.4" font-weight="normal" text-anchor="end" fill="#444" >50</text>
<line x1="374.5" y1="557.00" x2="382.2" y2="557.00" stroke="#8a8a8a" stroke-width="0.8"/>
<text x="371.90" y="558.70" font-family='"Liberation Sans", sans-serif' font-size="5.4" font-weight="normal" text-anchor="end" fill="#444" >60</text>
<line x1="374.5" y1="521.50" x2="382.2" y2="521.50" stroke="#8a8a8a" stroke-width="0.8"/>
<text x="371.90" y="523.20" font-family='"Liberation Sans", sans-serif' font-size="5.4" font-weight="normal" text-anchor="end" fill="#444" >70</text>
<line x1="374.5" y1="486.00" x2="382.2" y2="486.00" stroke="#8a8a8a" stroke-width="0.8"/>
<text x="371.90" y="487.70" font-family='"Liberation Sans", sans-serif' font-size="5.4" font-weight="normal" text-anchor="end" fill="#444" >80</text>
<line x1="374.5" y1="450.50" x2="382.2" y2="450.50" stroke="#8a8a8a" stroke-width="0.8"/>
<text x="371.90" y="452.20" font-family='"Liberation Sans", sans-serif' font-size="5.4" font-weight="normal" text-anchor="end" fill="#444" >90</text>
<line x1="374.5" y1="415.00" x2="382.2" y2="415.00" stroke="#8a8a8a" stroke-width="0.8"/>
<text x="371.90" y="416.70" font-family='"Liberation Sans", sans-serif' font-size="5.4" font-weight="normal" text-anchor="end" fill="#444" >100</text>
<line x1="374.5" y1="379.50" x2="382.2" y2="379.50" stroke="#8a8a8a" stroke-width="0.8"/>
<text x="371.90" y="381.20" font-family='"Liberation Sans", sans-serif' font-size="5.4" font-weight="normal" text-anchor="end" fill="#444" >110</text>
<line x1="396.40" y1="592.50" x2="661.42" y2="379.50" stroke="#777" stroke-width="0.8"/>
<rect x="445.40" y="543.80" width="5.8" height="5.8" fill="#0008e0" stroke="#333" stroke-width="0.4"/>
<rect x="445.60" y="559.20" width="5.4" height="4.6" fill="#0008e0" stroke="#333" stroke-width="0.4"/>
<rect x="494.50" y="506.90" width="5.6" height="4.6" fill="#18e0b8" stroke="#333" stroke-width="0.4"/>
<rect x="511.60" y="488.30" width="5.6" height="4.6" fill="#10ee70" stroke="#333" stroke-width="0.4"/>
<rect x="528.60" y="476.00" width="5.6" height="4.6" fill="#20e040" stroke="#333" stroke-width="0.4"/>
<rect x="578.35" y="441.40" width="5.6" height="4.6" fill="#f0b020" stroke="#333" stroke-width="0.4"/>
<rect x="582.05" y="444.80" width="5.6" height="4.6" fill="#f59a18" stroke="#333" stroke-width="0.4"/>
<rect x="584.15" y="439.40" width="5.6" height="4.6" fill="#f59a18" stroke="#333" stroke-width="0.4"/>
<rect x="593.80" y="436.60" width="5.4" height="4.6" fill="#f85010" stroke="#333" stroke-width="0.4"/>
<rect x="603.10" y="425.60" width="5.4" height="4.6" fill="#e81810" stroke="#333" stroke-width="0.4"/>
<rect x="606.40" y="408.60" width="5.4" height="4.6" fill="#e01010" stroke="#333" stroke-width="0.4"/>
<circle cx="575" cy="444" r="0.5" fill="#777"/>
<text x="416.10" y="385.50" font-family='"Liberation Sans", sans-serif' font-size="5.6" font-weight="normal" text-anchor="start" fill="#333" >Removal</text>
<text x="416.10" y="392.60" font-family='"Liberation Sans", sans-serif' font-size="5.3" font-weight="normal" text-anchor="start" fill="#5555cc" >61.6927</text>
<text x="458.50" y="392.60" font-family='"Liberation Sans", sans-serif' font-size="5.3" font-weight="normal" text-anchor="start" fill="#cc4444" >98.1641</text>
<defs><linearGradient id="lg" x1="0" x2="1" y1="0" y2="0"><stop offset="0" stop-color="#0000c8"/><stop offset="0.5" stop-color="#10f020"/><stop offset="1" stop-color="#d02000"/></linearGradient></defs>
<rect x="436.8" y="388.1" width="19.4" height="5.6" fill="url(#lg)" stroke="#333" stroke-width="0.3"/>
<circle cx="431.3" cy="379.4" r="0.4" fill="#666"/><circle cx="451.1" cy="379.4" r="0.4" fill="#666"/>
<text x="538.20" y="363.20" font-family='"Liberation Serif", serif' font-size="16.0" font-weight="bold" text-anchor="middle" fill="#000" >Predicted vs. Actual</text>
<text x="533.20" y="630.90" font-family='"Liberation Serif", serif' font-size="15.9" font-weight="bold" text-anchor="middle" fill="#000" >Actual</text>
<text transform="translate(361.8,484.4) rotate(-90)" font-family='"Liberation Serif", serif' font-size="15.8" font-weight="bold" text-anchor="middle" fill="#000">Predicted</text>
<text x="514.80" y="660.50" font-family='"Liberation Serif", serif' font-size="18.5" font-weight="bold" text-anchor="middle" fill="#000" >K</text>
<line x1="677.5" y1="629" x2="677.5" y2="633" stroke="#aaa" stroke-width="0.5"/>
</svg>
</body></html>
